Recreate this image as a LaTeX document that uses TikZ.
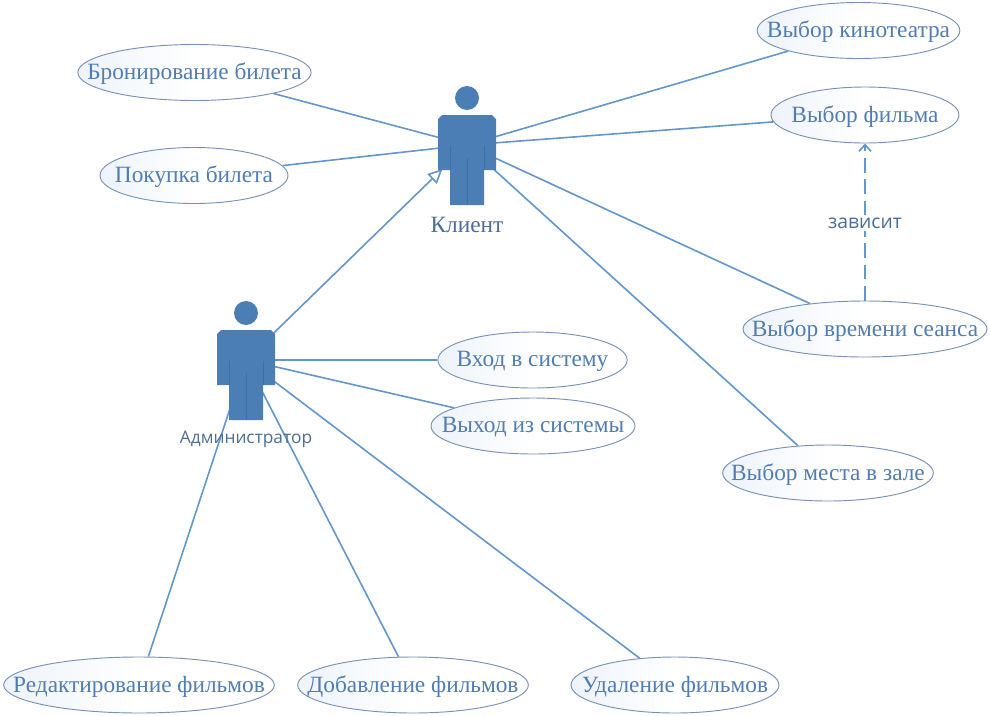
\documentclass[tikz,border=0pt]{standalone}
\usepackage{fontspec}
\setmainfont{Liberation Serif}
\newfontfamily\labelfont{Open Sans}
\usepackage{xcolor}
\usetikzlibrary{shapes.geometric,arrows.meta,backgrounds}
\definecolor{actorblue}{RGB}{74,126,181}
\definecolor{actorline}{RGB}{62,110,165}
\definecolor{lineblue}{RGB}{98,150,204}
\definecolor{ovalblue}{RGB}{118,146,184}
\definecolor{textblue}{RGB}{80,125,178}
\definecolor{captionblue}{RGB}{75,110,150}
\definecolor{ovalfill}{RGB}{238,243,250}

\tikzset{
    usecase/.style={ellipse, draw=ovalblue, line width=0.7pt, inner sep=0pt,
        left color=ovalfill, right color=white, middle color=white, minimum height=42pt,
        label={[font=\fontsize{17.5}{19}\selectfont, text=textblue, yshift=-1.2pt]center:#1}},
    actor/.pic={
        \node[minimum width=43.5pt, minimum height=90pt, inner sep=0pt] (-box) at (0,2) {};
        \fill[actorblue] (0,-45) circle (9pt);
        \fill[actorblue] (-29,-24) -- (-25,-28) -- (25,-28) -- (29,-24) -- (29,27)
            -- (17,27) -- (17,62) -- (-17,62) -- (-17,27) -- (-29,27) -- cycle;
        \draw[actorline, line width=0.5pt] (-17,3) -- (-17,27) (17,3) -- (17,27) (0,15) -- (0,62);
    },
    assoc/.style={lineblue, line width=1.2pt},
    depend/.style={lineblue, line width=1.2pt, dash pattern=on 11pt off 5pt, -{Straight Barb[length=5pt,width=9pt]}}
}

\begin{document}
\begin{tikzpicture}[x=0.75pt, y=-0.75pt]
    \useasboundingbox (0,0) rectangle (990,715);

    % Actors
    \pic (klient) at (467,143) {actor};
    \pic (admin) at (246,358) {actor};
    \node[font=\fontsize{17.5}{19}\selectfont, text=captionblue] (klientname) at (467,225) {Клиент};
    \node[font=\labelfont\fontsize{13}{15}\selectfont, text=captionblue] (adminname) at (246,439) {Администратор};

    % Client use cases
    \node[usecase={Бронирование билета}, minimum width=175pt] (bron) at (194.5,72.5) {};
    \node[usecase={Покупка билета}, minimum width=141pt] (pokupka) at (194,175.5) {};
    \node[usecase={Выбор кинотеатра}, minimum width=152pt] (kino) at (858.5,30.5) {};
    \node[usecase={Выбор фильма}, minimum width=141pt] (film) at (865,115) {};
    \node[usecase={Выбор времени сеанса}, minimum width=183pt] (vremya) at (865,329) {};
    \node[usecase={Выбор места в зале}, minimum width=158pt] (mesto) at (828,473) {};

    % Admin use cases
    \node[usecase={Вход в систему}, minimum width=142pt] (vhod) at (532.5,360) {};
    \node[usecase={Выход из системы}, minimum width=153pt] (vyhod) at (533,426) {};
    \node[usecase={Редактирование фильмов}, minimum width=203pt] (red) at (139,685) {};
    \node[usecase={Добавление фильмов}, minimum width=173pt] (dob) at (413,685) {};
    \node[usecase={Удаление фильмов}, minimum width=156pt] (udal) at (675,685) {};

    % Connections
    \begin{scope}[on background layer]
        \foreach \i in {bron,pokupka,kino,film,vremya,mesto} { \draw[assoc] (klient-box.center) -- (\i); }
        \foreach \i in {vhod,vyhod,red,dob,udal} { \draw[assoc] (admin-box.center) -- (\i); }
        \draw[assoc, -{Triangle[open,fill=white,length=11pt,width=10pt]}, shorten >=-5pt] (admin-box.center) -- (klient-box);
    \end{scope}

    % Dependency
    \draw[depend] (vremya.north) -- node[fill=white, inner sep=2pt, yshift=-1pt, font=\labelfont\fontsize{14.5}{16}\selectfont, text=captionblue] (zavisit) {зависит} (film.south);
\end{tikzpicture}
\end{document}
